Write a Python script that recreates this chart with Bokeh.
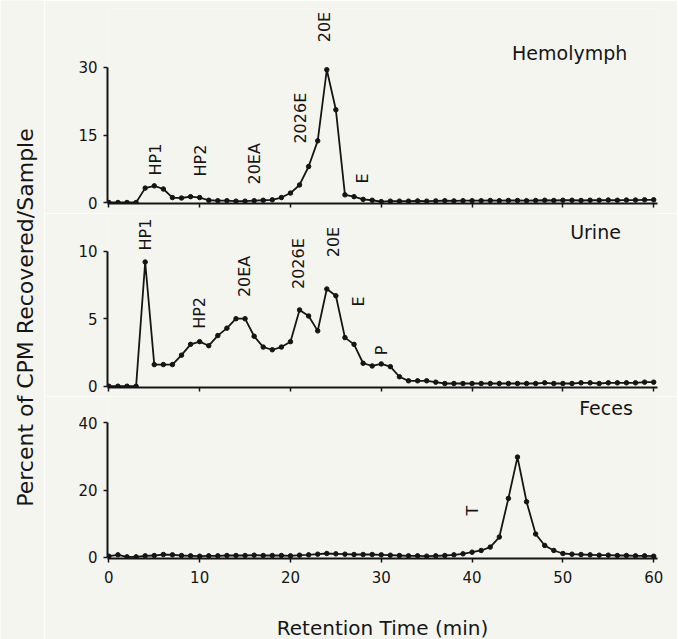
import numpy as np
from bokeh.plotting import figure
from bokeh.layouts import column, row
from bokeh.models import Range1d, FixedTicker
from bokeh.core.properties import value
from bokeh.embed import file_html
from bokeh.resources import INLINE

# ---------------- data ----------------
minutes = list(range(61))

hemolymph = [0, 0, 0, 0, 3.2, 3.7, 3.0, 1.1, 1.0, 1.3,
             1.1, 0.5, 0.4, 0.4, 0.3, 0.3, 0.4, 0.5, 0.6, 1.1,
             2.1, 3.9, 8.0, 13.7, 29.5, 20.6, 1.7, 1.3, 0.7, 0.5,
             0.2, 0.3, 0.3, 0.3, 0.35, 0.3, 0.35, 0.4, 0.35, 0.4,
             0.4, 0.4, 0.45, 0.4, 0.45, 0.45, 0.4, 0.45, 0.5, 0.45,
             0.5, 0.5, 0.45, 0.5, 0.5, 0.55, 0.5, 0.55, 0.55, 0.6,
             0.6]

urine = [0, 0, 0, 0, 9.2, 1.6, 1.6, 1.6, 2.3, 3.1,
         3.3, 3.0, 3.75, 4.3, 5.0, 5.0, 3.7, 2.9, 2.7, 2.9,
         3.3, 5.65, 5.2, 4.1, 7.2, 6.7, 3.6, 3.1, 1.7, 1.5,
         1.65, 1.45, 0.7, 0.4, 0.4, 0.4, 0.3, 0.2, 0.2, 0.2,
         0.2, 0.2, 0.2, 0.2, 0.2, 0.2, 0.2, 0.2, 0.25, 0.2,
         0.2, 0.2, 0.25, 0.25, 0.2, 0.25, 0.25, 0.25, 0.25, 0.3,
         0.3]

feces = [0.3, 0.7, 0.1, 0.1, 0.4, 0.5, 0.8, 0.7, 0.5, 0.4,
         0.3, 0.4, 0.4, 0.5, 0.5, 0.5, 0.6, 0.5, 0.5, 0.5,
         0.4, 0.6, 0.7, 0.9, 1.1, 1.0, 0.9, 0.8, 0.8, 0.8,
         0.7, 0.6, 0.5, 0.4, 0.4, 0.3, 0.4, 0.5, 0.7, 1.0,
         1.5, 2.0, 3.0, 6.0, 17.5, 29.8, 16.5, 6.9, 3.5, 2.0,
         1.1, 0.9, 0.8, 0.7, 0.6, 0.6, 0.5, 0.5, 0.4, 0.4,
         0.3]

x_ticks = [0, 10, 20, 30, 40, 50, 60]
hemo_ticks = [0, 15, 30]
urine_ticks = [0, 5, 10]
feces_ticks = [0, 20, 40]

hemo_peaks = ["HP1", "HP2", "20EA", "2026E", "20E", "E"]
hemo_peak_x = [5.1, 10.1, 16.0, 21.1, 23.8, 27.9]
hemo_peak_y = [6.0, 5.8, 4.0, 13.1, 35.6, 4.2]

urine_peaks = ["HP1", "HP2", "20EA", "2026E", "20E", "E", "P"]
urine_peak_x = [4.0, 10.0, 14.9, 20.9, 24.7, 27.5, 30.0]
urine_peak_y = [10.05, 4.25, 6.6, 7.2, 9.55, 5.9, 2.3]

feces_peaks = ["T"]
feces_peak_x = [40.0]
feces_peak_y = [12.4]

panel_names = ["Hemolymph", "Urine", "Feces"]
panel_name_x = [44.4, 50.8, 51.8]
panel_name_y = [33.3, 11.4, 44.3]

assert len(hemolymph) == len(urine) == len(feces) == len(minutes)

# ---------------- style ----------------
FONT = "DejaVu Sans"
BG = "#f5f5f0"
INK = "#151515"

x_range = Range1d(-0.15, 60.42)


def make_panel(vals, y_start, y_end, yticks, frame_h, top_border, bottom_border,
               peaks, px, py, name, nx, ny, show_xlabels):
    p = figure(frame_width=550, frame_height=frame_h,
               x_range=x_range, y_range=Range1d(y_start, y_end),
               output_backend="svg", toolbar_location=None,
               min_border_left=63, min_border_right=20,
               min_border_top=top_border, min_border_bottom=bottom_border,
               background_fill_color=BG, border_fill_color=BG,
               outline_line_color=None)
    p.xgrid.visible = False
    p.ygrid.visible = False

    p.line(minutes, vals, line_color=INK, line_width=1.8)
    p.scatter(minutes, vals, marker="circle", size=4.5,
              fill_color=INK, line_color=INK)

    p.text(px, py, text=peaks, angle=np.pi / 2, text_align="left",
           text_baseline="middle", text_font=value(FONT),
           text_font_size="16px", text_color=INK)
    p.text([nx], [ny], text=[name], text_align="left",
           text_baseline="middle", text_font=value(FONT),
           text_font_size="19px", text_color=INK)

    yax = p.yaxis[0]
    yax.ticker = FixedTicker(ticks=yticks)
    yax.bounds = (yticks[0], yticks[-1])
    yax.minor_tick_line_color = None
    yax.major_tick_in = 0
    yax.major_tick_out = 4
    yax.major_label_standoff = 6
    yax.axis_line_width = 2
    yax.axis_line_color = INK
    yax.major_tick_line_width = 1.5
    yax.major_tick_line_color = INK
    yax.major_label_text_font = FONT
    yax.major_label_text_font_size = "15px"
    yax.major_label_text_color = INK

    xax = p.xaxis[0]
    xax.axis_line_width = 2
    xax.axis_line_color = INK
    xax.major_label_text_font = FONT
    xax.major_label_text_color = INK
    if show_xlabels:
        xax.ticker = FixedTicker(ticks=x_ticks)
        xax.minor_tick_line_color = None
        xax.major_tick_in = 0
        xax.major_tick_out = 4
        xax.major_tick_line_width = 1.5
        xax.major_tick_line_color = INK
        xax.major_label_text_font_size = "15px"
        xax.major_label_standoff = 8
        xax.axis_label = "Retention Time (min)"
        xax.axis_label_text_font = FONT
        xax.axis_label_text_font_size = "20px"
        xax.axis_label_text_font_style = "normal"
        xax.axis_label_text_color = INK
        xax.axis_label_standoff = 30
    else:
        # unlabeled tick marks (minor ticks carry no labels)
        xax.ticker = FixedTicker(ticks=[], minor_ticks=x_ticks)
        xax.major_tick_line_color = None
        xax.minor_tick_in = 0
        xax.minor_tick_out = 4
        xax.minor_tick_line_width = 1.5
        xax.minor_tick_line_color = INK
        xax.major_label_standoff = 0
    return p


p1 = make_panel(hemolymph, -0.22, 43.11, hemo_ticks, 195, 8, 10,
                hemo_peaks, hemo_peak_x, hemo_peak_y,
                panel_names[0], panel_name_x[0], panel_name_y[0], False)
p2 = make_panel(urine, -0.096, 12.793, urine_ticks, 174, 0, 9,
                urine_peaks, urine_peak_x, urine_peak_y,
                panel_names[1], panel_name_x[1], panel_name_y[1], False)
p3 = make_panel(feces, -0.387, 47.83, feces_ticks, 162, 0, 81,
                feces_peaks, feces_peak_x, feces_peak_y,
                panel_names[2], panel_name_x[2], panel_name_y[2], True)

# shared y-axis title, drawn in a narrow strip on the left
lab = figure(width=44, height=639, x_range=Range1d(0, 44), y_range=Range1d(0, 639),
             output_backend="svg", toolbar_location=None,
             x_axis_location=None, y_axis_location=None,
             min_border=0, background_fill_color=BG, border_fill_color=BG,
             outline_line_color=None)
lab.xgrid.visible = False
lab.ygrid.visible = False
lab.text([25], [322], text=["Percent of CPM Recovered/Sample"], angle=np.pi / 2,
         text_align="center", text_baseline="middle", text_font=value(FONT),
         text_font_size="22px", text_color=INK)

layout = row(lab, column(p1, p2, p3))

open("out.html", "w").write(file_html(layout, INLINE))
